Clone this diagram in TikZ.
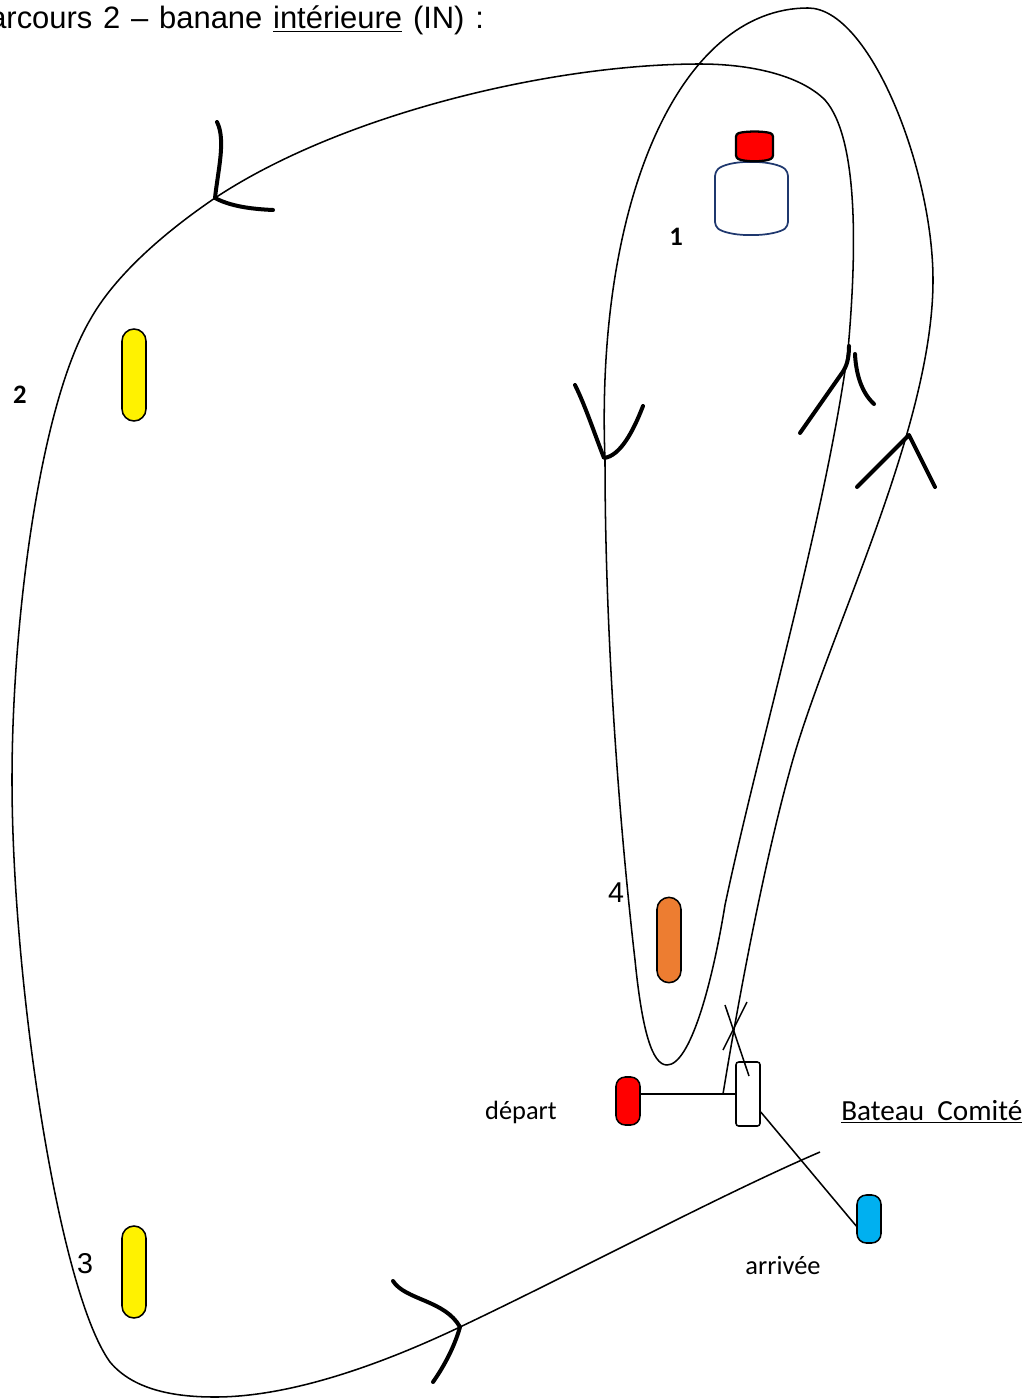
\documentclass[tikz,border=0pt]{standalone}
\usepackage{fontspec}
\setmainfont{Liberation Sans}
\newfontfamily\calibrifont{Carlito}
\tikzset{
  x=0.75pt,y=-0.75pt,
  course/.style={draw=black,line width=1.15pt,line join=round},
  tick/.style={draw=black,line width=3pt,line cap=round,line join=round},
  thinline/.style={draw=black,line width=1.15pt},
  buoy/.style={draw=black,line width=1.15pt,rounded corners=9pt,minimum width=18pt,inner sep=0pt},
  lab/.style={inner sep=0pt,font=\calibrifont\fontsize{19.8}{22}\selectfont,text=black},
  lbl/.style={inner sep=0pt,font=\calibrifont\fontsize{20}{22}\selectfont\bfseries,text=black},
  ar/.style={inner sep=0pt,font=\fontsize{23.2}{26}\selectfont,text=black},
  num/.style={inner sep=0pt,font=\fontsize{21.5}{24}\selectfont,text=black},
}
\definecolor{bluebuoy}{RGB}{0,176,240}
\definecolor{orangebuoy}{RGB}{237,125,49}
\definecolor{navyline}{RGB}{31,56,110}
\begin{document}
\begin{tikzpicture}
\useasboundingbox (0,0) rectangle (1034,1398);
% title
\node[ar,anchor=base west] (title) at (-11,29) {\spaceskip=8.1pt arcours 2 – banane \underline{intérieure} (IN) :};
% buoys
\node[buoy,fill=yellow,minimum height=69pt] (m2) at (134,375) {};
\node[buoy,fill=yellow,minimum height=69pt] (m3) at (134,1272) {};
\node[buoy,fill=orangebuoy,minimum height=64pt] (m4) at (669,940) {};
\node[buoy,fill=red,minimum height=36pt,rounded corners=7pt] (dep) at (628,1101) {};
\node[buoy,fill=bluebuoy,minimum height=36pt,rounded corners=7pt] (arr) at (869,1219) {};
\node[draw=black,line width=1.15pt,rounded corners=2pt,minimum width=18pt,minimum height=48pt,inner sep=0pt,fill=white] (comite) at (748,1094) {};
% mark 1
\path[draw=navyline,line width=1.3pt,fill=white,rounded corners=3pt] (715,172) .. controls (722,165) and (735,162) .. (751,162) .. controls (767,162) and (781,165) .. (788,172) -- (788,226) .. controls (781,232) and (767,235) .. (751,235) .. controls (735,235) and (722,232) .. (715,226) -- cycle;
\path[draw=black,line width=1.7pt,fill=red,rounded corners=2pt] (736,134) .. controls (745,131) and (764,131) .. (773,134) -- (773,158) .. controls (764,162) and (745,162) .. (736,158) -- cycle;
% labels
\node[lbl] (l1) at (676,237) {1};
\node[lbl] (l2) at (20,395) {2};
\node[num] (l3) at (85,1264) {3};
\node[num] (l4) at (616,893) {4};
\node[lab,anchor=base] (ldep) at (521,1119) {départ};
\node[lab,anchor=base] (larr) at (783,1274) {arrivée};
\node[lab,anchor=base west,font=\calibrifont\fontsize{21.9}{24}\selectfont] (lboat) at (841,1120) {\underline{Bateau\ \ Comité}};
% start and finish lines
\coordinate (startpt) at (723,1094);
\coordinate (courseend) at (820,1152);
\draw[thinline] (dep.east |- comite.center) -- (comite.west);
\draw[thinline] (comite.east |- 0,1112) -- (arr.west |- 0,1226);
% X
\coordinate (xa) at (725,1005);
\coordinate (xb) at (749,1076);
\coordinate (xc) at (747,1002);
\coordinate (xd) at (723,1050);
\draw[thinline] (xa) -- (xb);
\draw[thinline] (xc) -- (xd);
% course
\draw[course] (startpt)
 .. controls (740,990) and (765,860) .. (790,770)
 .. controls (825,640) and (933,430) .. (933,280)
 .. controls (933,170) and (870,8) .. (808,8)
 .. controls (680,8) and (595,200) .. (605,460)
 .. controls (605,640) and (620,830) .. (635,960)
 .. controls (642,1030) and (652,1065) .. (667,1065)
 .. controls (690,1065) and (712,985) .. (725,905)
 .. controls (760,740) and (825,520) .. (848,350)
 .. controls (856,260) and (860,140) .. (825,100)
 .. controls (800,75) and (750,64) .. (700,64)
 .. controls (550,64) and (340,115) .. (215,198)
 .. controls (165,232) and (115,275) .. (90,320)
 .. controls (40,405) and (12,620) .. (12,780)
 .. controls (12,980) and (58,1290) .. (110,1362)
 .. controls (135,1392) and (180,1397) .. (215,1397)
 .. controls (290,1397) and (380,1365) .. (460,1327)
 .. controls (580,1270) and (720,1195) .. (courseend);
% direction ticks
\draw[tick] (217,122) .. controls (226,140) and (218,170) .. (215,198) .. controls (230,206) and (250,209) .. (273,210);
\draw[tick] (575,385) .. controls (585,405) and (595,435) .. (604,458) .. controls (620,456) and (633,432) .. (643,406);
\draw[tick] (800,433) -- (842,373) .. controls (847,366) and (849,358) .. (849,346);
\draw[tick] (855,354) .. controls (856,375) and (862,393) .. (874,404);
\draw[tick] (857,487) -- (909,435) -- (935,487);
\draw[tick] (393,1281) .. controls (405,1300) and (445,1300) .. (460,1327) .. controls (455,1345) and (445,1365) .. (433,1382);
\end{tikzpicture}
\end{document}
